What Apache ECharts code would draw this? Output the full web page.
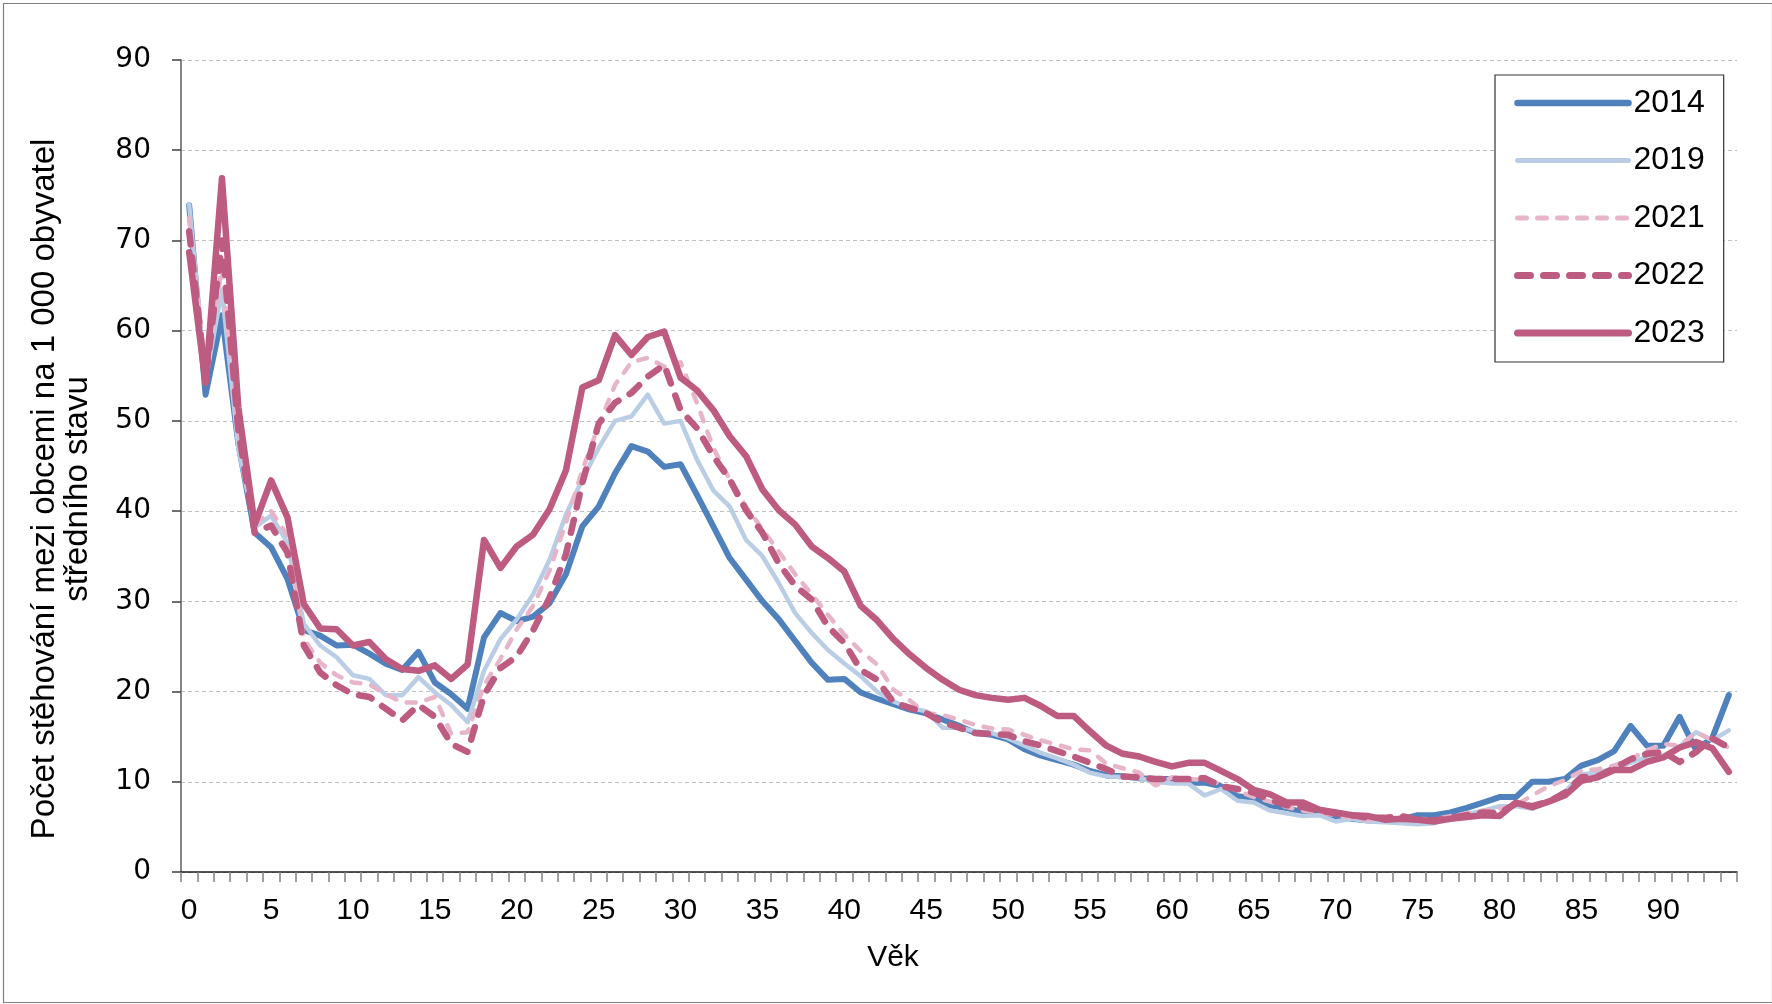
<!DOCTYPE html>
<html>
<head>
<meta charset="utf-8">
<script src="https://cdn.jsdelivr.net/npm/echarts@6/dist/echarts.min.js"></script>
<style>
html,body{margin:0;padding:0;background:#fff;}
#chart{width:1772px;height:1004px;}
</style>
</head>
<body>
<div id="chart"></div>
<script>
// Age categories (0–94)
const ages = ["0","1","2","3","4","5","6","7","8","9","10","11","12","13","14","15","16","17","18","19",
"20","21","22","23","24","25","26","27","28","29","30","31","32","33","34","35","36","37","38","39",
"40","41","42","43","44","45","46","47","48","49","50","51","52","53","54","55","56","57","58","59",
"60","61","62","63","64","65","66","67","68","69","70","71","72","73","74","75","76","77","78","79",
"80","81","82","83","84","85","86","87","88","89","90","91","92","93","94"];

const yTicks = [0,10,20,30,40,50,60,70,80,90];

const s2014 = [73.9,52.9,61.7,47.5,37.6,36.0,32.5,26.8,26.2,25.1,25.2,24.2,23.1,22.4,24.4,21.0,19.7,18.1,26.0,28.7,
27.8,28.3,29.8,33.0,38.3,40.5,44.2,47.2,46.6,44.9,45.2,41.8,38.3,34.8,32.4,30.0,28.0,25.6,23.2,21.3,
21.4,19.9,19.2,18.6,18.0,17.6,16.9,16.2,15.4,15.2,14.7,13.6,12.9,12.4,11.9,11.2,10.7,10.6,10.4,10.3,
10.3,9.9,9.9,9.5,8.4,8.2,7.4,7.1,6.6,6.5,6.1,5.9,5.7,5.7,5.8,6.3,6.3,6.6,7.1,7.7,
8.3,8.3,10.0,10.0,10.3,11.8,12.4,13.4,16.2,14.0,14.0,17.2,13.5,14.9,19.6];

const s2019 = [74.0,54.5,64.5,47.0,38.2,39.5,36.5,27.5,25.1,23.8,21.8,21.4,19.6,19.6,21.6,19.9,18.5,16.6,22.3,25.8,
28.0,30.8,34.6,39.6,43.5,47.0,50.0,50.5,52.9,49.7,50.0,45.7,42.3,40.5,36.8,35.0,32.0,28.7,26.5,24.6,
23.1,21.7,20.0,18.9,18.2,17.8,16.0,16.0,15.6,15.4,14.8,14.0,13.2,12.6,11.9,11.0,10.6,10.5,10.4,10.0,
9.8,9.8,8.5,9.2,7.9,7.7,6.8,6.5,6.2,6.3,5.6,5.9,5.6,5.5,5.4,5.3,5.4,6.0,6.4,6.8,
7.3,7.3,7.0,7.8,8.9,10.8,11.0,11.5,12.1,12.8,12.9,13.9,15.5,14.6,15.7];

const s2021 = [72.5,55.5,67.0,48.5,38.5,40.0,37.3,25.8,23.2,21.8,21.0,20.8,19.7,18.8,18.8,19.4,15.3,15.5,20.7,23.6,
26.9,29.5,33.4,38.7,44.5,49.5,54.0,56.5,57.0,56.0,56.5,52.0,47.0,43.5,40.5,38.0,35.5,33.0,30.8,28.5,
26.3,24.5,23.0,20.2,19.0,17.6,17.4,16.9,16.3,15.9,15.8,15.2,14.6,14.1,13.6,13.5,12.0,11.5,11.0,9.6,
10.5,10.3,10.2,9.8,9.0,8.3,7.8,7.2,6.8,6.6,6.3,6.0,5.8,5.7,6.2,5.9,5.8,6.2,6.5,6.8,
7.0,7.4,8.5,9.5,10.2,11.2,11.4,11.8,12.5,13.5,14.2,14.0,15.5,14.6,13.8];

const s2022 = [71.0,54.5,70.0,49.0,37.6,38.4,35.4,25.1,22.1,20.7,19.7,19.4,18.1,16.8,18.5,17.2,14.2,13.3,19.6,22.6,
23.9,26.8,30.4,35.2,43.1,49.7,52.0,53.1,54.9,56.2,51.2,49.2,46.1,43.5,40.1,37.6,34.2,31.7,30.2,27.2,
25.4,22.4,21.3,18.8,18.2,17.6,16.6,16.0,15.4,15.3,15.2,14.5,14.0,13.4,12.8,12.1,11.4,10.6,10.5,10.3,
10.3,10.3,10.4,9.5,9.2,8.8,8.0,7.4,7.2,6.8,6.5,6.3,6.0,6.0,6.2,5.8,5.7,6.0,6.3,6.6,
6.5,7.6,7.3,7.8,8.8,10.5,10.6,11.5,12.5,13.1,13.3,12.2,13.3,14.8,13.8];

const s2023 = [68.7,54.2,76.9,51.5,38.5,43.4,39.3,29.7,27.0,26.9,25.1,25.5,23.6,22.5,22.3,22.9,21.4,23.0,36.8,33.7,
36.1,37.4,40.2,44.5,53.7,54.5,59.5,57.3,59.3,59.9,54.8,53.4,51.2,48.3,46.1,42.4,40.1,38.5,36.1,34.8,
33.3,29.5,27.9,25.8,24.1,22.6,21.3,20.2,19.6,19.3,19.1,19.3,18.4,17.3,17.3,15.6,14.0,13.1,12.8,12.2,
11.7,12.1,12.1,11.2,10.3,9.1,8.6,7.7,7.7,6.9,6.6,6.3,6.2,5.8,5.9,5.8,5.6,5.9,6.1,6.3,
6.2,7.7,7.2,7.8,8.5,10.1,10.5,11.3,11.3,12.2,12.7,13.8,14.4,13.7,11.1];

const seriesNames = ["2014","2019","2021","2022","2023"];
const yTitle = "Počet stěhování mezi obcemi na 1 000 obyvatel\nstředního stavu";
const xTitle = "Věk";

const chart = echarts.init(document.getElementById('chart'), null, {renderer:'canvas'});
const FONT = '"Liberation Sans", Arial, sans-serif';

const styles = [
  { color: '#4F81BD', width: 6,   type: 'solid' },
  { color: '#B9CDE5', width: 4.5, type: 'solid' },
  { color: '#E6B5C9', width: 4.5, type: [9, 11] },
  { color: '#BD5B80', width: 6.5, type: [13, 13] },
  { color: '#BD5B80', width: 6.5, type: 'solid' }
];
const seriesData = [s2014, s2019, s2021, s2022, s2023];

const series = seriesNames.map((name, i) => ({
  name: name, type: 'line', data: seriesData[i],
  symbol: 'none', symbolSize: 0, showSymbol: false, smooth: false,
  lineStyle: { color: styles[i].color, width: styles[i].width, type: styles[i].type, cap: 'round', join: 'round' },
  itemStyle: { color: styles[i].color, opacity: 0 }
}));

const legendData = seriesNames.map((name, i) => ({
  name: name,
  itemStyle: { opacity: 0 },
  lineStyle: { color: styles[i].color, width: styles[i].width + 0.5, type: styles[i].type, cap: 'round', opacity: 1 }
}));

chart.setOption({
  animation: false,
  backgroundColor: '#ffffff',
  grid: { left: 181, top: 60, right: 35, bottom: 132, containLabel: false },
  xAxis: {
    type: 'category', data: ages, boundaryGap: true,
    axisLine: { show: true, lineStyle: { color: '#1a1a1a', width: 1.5 } },
    axisTick: { show: true, interval: 0, length: 10, lineStyle: { color: '#808080', width: 1.5 } },
    axisLabel: { interval: 4, margin: 24, fontSize: 30, fontFamily: FONT, color: '#000' },
    splitLine: { show: false }
  },
  yAxis: {
    type: 'value', min: 0, max: 90, interval: 10,
    axisLine: { show: true, lineStyle: { color: '#868686', width: 2 } },
    axisTick: { show: true, length: 9, lineStyle: { color: '#404040', width: 1.5 } },
    axisLabel: { margin: 30, fontSize: 28, fontFamily: '"DejaVu Sans", sans-serif', color: '#000' },
    splitLine: { show: true, lineStyle: { color: '#BFBFBF', width: 1, type: [4, 3] } }
  },
  legend: {
    show: true, orient: 'vertical', left: 1495, top: 75,
    padding: [12, 19, 13, 19],
    backgroundColor: '#fff', borderColor: '#333', borderWidth: 1.2,
    itemWidth: 111, itemHeight: 20, itemGap: 25.5,
    itemStyle: { opacity: 0 },
    textStyle: { fontSize: 32, fontFamily: FONT, color: '#000', lineHeight: 32 },
    data: legendData
  },
  series: series,
  graphic: [
    { type: 'rect', left: 1, top: 1, silent: true,
      shape: { x: 0, y: 0, width: 1769, height: 999 },
      style: { fill: 'none', stroke: '#7f7f7f', lineWidth: 1.2 } },
    { type: 'text', x: 61, y: 489, rotation: Math.PI / 2, silent: true,
      style: { text: yTitle, fontSize: 33, fontFamily: FONT, fill: '#000',
               align: 'center', verticalAlign: 'middle', lineHeight: 33 } },
    { type: 'text', x: 893, y: 958, silent: true,
      style: { text: xTitle, fontSize: 30, fontFamily: FONT, fill: '#000',
               align: 'center', verticalAlign: 'middle' } }
  ]
});
</script>
</body>
</html>
